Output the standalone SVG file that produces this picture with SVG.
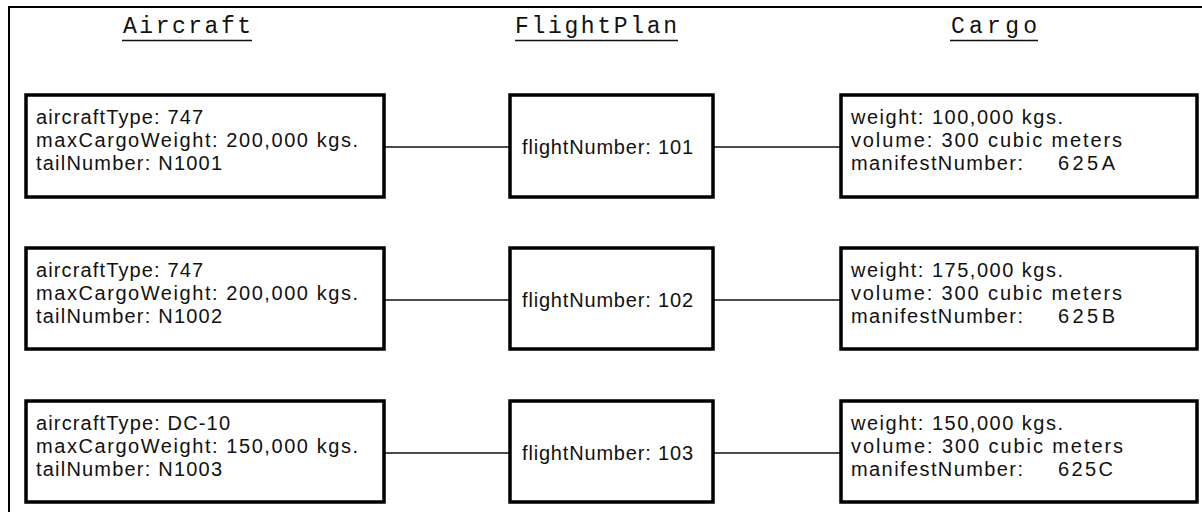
<svg xmlns="http://www.w3.org/2000/svg" width="1202" height="512" viewBox="0 0 1202 512">
<style>
.box{fill:#fff;stroke:#000;stroke-width:3.5}
.t{font-family:"Liberation Sans",Arial,sans-serif;font-size:20px;fill:#111}
.h{font-family:"Liberation Mono","Courier New",monospace;font-size:23px;fill:#111}
.ul{stroke:#111;stroke-width:1.6}
.c{stroke:#111;stroke-width:1.5;fill:none}
.frame{stroke:#000;stroke-width:2;fill:none}
</style>
<rect width="1202" height="512" fill="#fff"/>
<path class="frame" d="M9,512 V7 H1202"/>
<g id="headers">
<text class="h" x="123" y="33" textLength="128" lengthAdjust="spacing">Aircraft</text>
<line class="ul" x1="122" y1="40.5" x2="252" y2="40.5"/>
<text class="h" x="515" y="33" textLength="162" lengthAdjust="spacing">FlightPlan</text>
<line class="ul" x1="515" y1="40.5" x2="678" y2="40.5"/>
<text class="h" x="951" y="33" textLength="86" lengthAdjust="spacing">Cargo</text>
<line class="ul" x1="950" y1="40.5" x2="1038" y2="40.5"/>
</g>
<g id="connectors">
<line class="c" x1="384" y1="147" x2="510" y2="147"/>
<line class="c" x1="713" y1="147" x2="841" y2="147"/>
<line class="c" x1="384" y1="300" x2="510" y2="300"/>
<line class="c" x1="713" y1="300" x2="841" y2="300"/>
<line class="c" x1="384" y1="453" x2="510" y2="453"/>
<line class="c" x1="713" y1="453" x2="841" y2="453"/>
</g>
<g id="aircraft1">
<rect class="box" x="26" y="95" width="358" height="102"/>
<text class="t" x="36" y="124" textLength="167" lengthAdjust="spacing">aircraftType: 747</text>
<text class="t" x="36" y="147" textLength="322" lengthAdjust="spacing">maxCargoWeight: 200,000 kgs.</text>
<text class="t" x="36" y="170" textLength="186" lengthAdjust="spacing">tailNumber: N1001</text>
</g>
<g id="flightplan1">
<rect class="box" x="510" y="95" width="203" height="102"/>
<text class="t" x="522" y="154" textLength="171" lengthAdjust="spacing">flightNumber: 101</text>
</g>
<g id="cargo1">
<rect class="box" x="841" y="95" width="356" height="102"/>
<text class="t" x="851" y="124" textLength="212" lengthAdjust="spacing">weight: 100,000 kgs.</text>
<text class="t" x="851" y="147" textLength="271" lengthAdjust="spacing">volume: 300 cubic meters</text>
<text class="t" x="851" y="170" textLength="172" lengthAdjust="spacing">manifestNumber:</text>
<text class="t" x="1058" y="170" textLength="57" lengthAdjust="spacing">625A</text>
</g>
<g id="aircraft2">
<rect class="box" x="26" y="248" width="358" height="101"/>
<text class="t" x="36" y="277" textLength="167" lengthAdjust="spacing">aircraftType: 747</text>
<text class="t" x="36" y="300" textLength="322" lengthAdjust="spacing">maxCargoWeight: 200,000 kgs.</text>
<text class="t" x="36" y="323" textLength="186" lengthAdjust="spacing">tailNumber: N1002</text>
</g>
<g id="flightplan2">
<rect class="box" x="510" y="248" width="203" height="101"/>
<text class="t" x="522" y="307" textLength="171" lengthAdjust="spacing">flightNumber: 102</text>
</g>
<g id="cargo2">
<rect class="box" x="841" y="248" width="356" height="101"/>
<text class="t" x="851" y="277" textLength="212" lengthAdjust="spacing">weight: 175,000 kgs.</text>
<text class="t" x="851" y="300" textLength="271" lengthAdjust="spacing">volume: 300 cubic meters</text>
<text class="t" x="851" y="323" textLength="172" lengthAdjust="spacing">manifestNumber:</text>
<text class="t" x="1058" y="323" textLength="57" lengthAdjust="spacing">625B</text>
</g>
<g id="aircraft3">
<rect class="box" x="26" y="401" width="358" height="101"/>
<text class="t" x="36" y="430" textLength="194" lengthAdjust="spacing">aircraftType: DC-10</text>
<text class="t" x="36" y="453" textLength="322" lengthAdjust="spacing">maxCargoWeight: 150,000 kgs.</text>
<text class="t" x="36" y="476" textLength="186" lengthAdjust="spacing">tailNumber: N1003</text>
</g>
<g id="flightplan3">
<rect class="box" x="510" y="401" width="203" height="101"/>
<text class="t" x="522" y="460" textLength="171" lengthAdjust="spacing">flightNumber: 103</text>
</g>
<g id="cargo3">
<rect class="box" x="841" y="401" width="356" height="101"/>
<text class="t" x="851" y="430" textLength="212" lengthAdjust="spacing">weight: 150,000 kgs.</text>
<text class="t" x="851" y="453" textLength="272" lengthAdjust="spacing">volume: 300 cubic meters</text>
<text class="t" x="851" y="476" textLength="172" lengthAdjust="spacing">manifestNumber:</text>
<text class="t" x="1058" y="476" textLength="55" lengthAdjust="spacing">625C</text>
</g>
</svg>
